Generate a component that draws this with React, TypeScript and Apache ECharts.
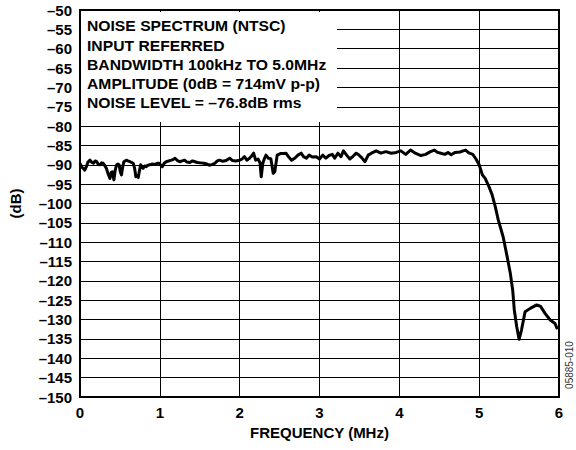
import React, { useEffect, useRef } from "react";
import * as echarts from "echarts";

const freqMHz = [
  0.0, 0.02, 0.04, 0.06, 0.08, 0.1, 0.125, 0.15, 0.17, 0.19, 0.21, 0.23, 0.25, 0.27, 0.29, 0.31, 0.33, 0.355,
  0.375, 0.39, 0.405, 0.425, 0.44, 0.458, 0.475, 0.49, 0.505, 0.52, 0.535, 0.55, 0.58, 0.6, 0.625, 0.645, 0.667,
  0.685, 0.7, 0.715, 0.73, 0.745, 0.76, 0.79, 0.81, 0.83, 0.85, 0.875, 0.9, 0.94, 0.97, 0.99, 1.01, 1.03, 1.055,
  1.08, 1.11, 1.145, 1.17, 1.19, 1.22, 1.25, 1.28, 1.31, 1.34, 1.375, 1.41, 1.44, 1.47, 1.51, 1.55, 1.59, 1.62,
  1.66, 1.69, 1.72, 1.75, 1.79, 1.83, 1.875, 1.91, 1.95, 2.0, 2.03, 2.06, 2.09, 2.12, 2.15, 2.175, 2.2, 2.23,
  2.255, 2.27, 2.29, 2.31, 2.33, 2.36, 2.39, 2.42, 2.44, 2.47, 2.51, 2.55, 2.58, 2.615, 2.65, 2.69, 2.73, 2.77,
  2.8, 2.835, 2.87, 2.91, 2.96, 3.0, 3.04, 3.08, 3.12, 3.16, 3.19, 3.23, 3.27, 3.3, 3.34, 3.38, 3.42, 3.46, 3.49,
  3.53, 3.57, 3.61, 3.65, 3.71, 3.77, 3.83, 3.9, 3.96, 4.02, 4.08, 4.14, 4.2, 4.27, 4.33, 4.39, 4.44, 4.48, 4.52,
  4.57, 4.61, 4.65, 4.7, 4.76, 4.8, 4.83, 4.87, 4.92, 4.96, 5.0, 5.04, 5.075, 5.12, 5.16, 5.2, 5.24, 5.3, 5.35,
  5.39, 5.42, 5.44, 5.47, 5.5, 5.53, 5.575, 5.64, 5.72, 5.77, 5.825, 5.89, 5.95, 5.98,
];

const noiseDb = [
  -89.6, -90.6, -90.9, -91.4, -90.5, -89.3, -88.8, -89.4, -89.6, -89.0, -89.2, -89.9, -90.0, -89.5, -89.6, -90.2,
  -90.9, -92.5, -93.5, -92.0, -91.8, -93.9, -91.5, -90.0, -89.8, -90.0, -91.8, -92.6, -90.5, -89.2, -88.8, -89.0,
  -89.2, -89.4, -89.6, -91.0, -93.1, -92.8, -93.3, -91.5, -90.0, -90.9, -90.3, -90.5, -90.1, -90.0, -89.8, -89.9,
  -89.6, -89.6, -90.0, -90.5, -89.6, -89.2, -89.0, -88.8, -88.6, -88.3, -88.9, -89.2, -89.0, -88.8, -89.3, -89.4,
  -89.0, -89.2, -89.4, -89.5, -89.6, -89.8, -90.1, -89.9, -89.6, -89.0, -88.8, -89.1, -88.9, -88.3, -88.9, -89.0,
  -88.8, -88.5, -87.9, -88.8, -88.4, -87.7, -87.0, -88.8, -88.5, -89.5, -93.1, -89.6, -88.4, -87.5, -88.3, -88.4,
  -92.2, -91.8, -87.5, -87.1, -87.1, -87.0, -88.0, -88.8, -88.3, -87.5, -87.0, -87.9, -88.3, -87.5, -88.0, -87.9,
  -88.5, -87.5, -88.3, -87.6, -87.3, -88.3, -87.0, -87.9, -86.4, -87.5, -88.5, -87.8, -87.0, -87.4, -88.2, -89.2,
  -87.5, -87.0, -86.4, -87.0, -86.6, -87.0, -86.8, -86.4, -87.3, -86.2, -87.0, -87.6, -87.3, -86.6, -86.2, -86.8,
  -87.0, -87.3, -86.8, -87.4, -86.8, -86.7, -86.4, -86.2, -86.9, -87.3, -88.5, -90.0, -92.6, -93.5, -95.5, -97.6,
  -100.7, -104.3, -108.6, -113.7, -118.0, -122.4, -127.5, -131.8, -135.1, -132.7, -128.0, -127.1, -126.2, -126.6,
  -128.4, -130.1, -131.0, -132.5,
];

const noteLines = [
  "NOISE SPECTRUM (NTSC)",
  "INPUT REFERRED",
  "BANDWIDTH 100kHz TO 5.0MHz",
  "AMPLITUDE (0dB = 714mV p-p)",
  "NOISE LEVEL = \u201376.8dB rms",
];

const xAxisTitle = "FREQUENCY (MHz)";
const yAxisTitle = "(dB)";
const figureId = "05885-010";

const FONT = "'Liberation Sans', Arial, Helvetica, sans-serif";

export default function App() {
  const ref = useRef<HTMLDivElement>(null);

  useEffect(() => {
    if (!ref.current) return;
    const chart = echarts.init(ref.current, undefined, { renderer: "svg" });

    const noteGraphics: any[] = noteLines.map((line, i) => ({
      type: "text",
      x: 87,
      y: 26.7 + i * 19.1,
      scaleX: 1.12,
      z: 10,
      style: {
        text: line,
        fill: "#000",
        font: `bold 14px ${FONT}`,
        verticalAlign: "middle",
        align: "left",
      },
    }));

    chart.setOption({
      animation: false,
      backgroundColor: "#fff",
      grid: {
        left: 79,
        right: 17,
        top: 10,
        bottom: 53,
        show: true,
        borderColor: "#000",
        borderWidth: 2,
        backgroundColor: "transparent",
      },
      xAxis: {
        type: "value",
        min: 0,
        max: 6,
        interval: 1,
        name: xAxisTitle,
        nameLocation: "middle",
        nameGap: 26,
        nameTextStyle: { fontFamily: FONT, fontWeight: "bold", fontSize: 15, color: "#000" },
        axisLine: { show: true, lineStyle: { color: "#000", width: 2 } },
        axisTick: { show: false },
        axisLabel: { fontFamily: FONT, fontWeight: "bold", fontSize: 15, color: "#000", margin: 8 },
        splitLine: { show: true, lineStyle: { color: "#000", width: 1 } },
      },
      yAxis: {
        type: "value",
        min: -150,
        max: -50,
        interval: 5,
        name: yAxisTitle,
        nameLocation: "middle",
        nameRotate: 90,
        nameGap: 57,
        nameTextStyle: { fontFamily: FONT, fontWeight: "bold", fontSize: 15, color: "#000" },
        axisLine: { show: true, lineStyle: { color: "#000", width: 2 } },
        axisTick: { show: false },
        axisLabel: {
          fontFamily: FONT,
          fontWeight: "bold",
          fontSize: 15,
          color: "#000",
          margin: 8,
          formatter: (v: number) => String(v).replace("-", "\u2013"),
        },
        splitLine: { show: true, lineStyle: { color: "#000", width: 1 } },
      },
      graphic: [
        {
          type: "rect",
          z: 5,
          shape: { x: 81, y: 12, width: 256, height: 110 },
          style: { fill: "#fff" },
        },
        ...noteGraphics,
        {
          type: "text",
          x: 569,
          y: 365,
          rotation: Math.PI / 2,
          z: 10,
          style: {
            text: figureId,
            fill: "#333",
            font: `10px ${FONT}`,
            align: "center",
            verticalAlign: "middle",
          },
        },
      ],
      series: [
        {
          type: "line",
          data: freqMHz.map((f, i) => [f, noiseDb[i]]),
          showSymbol: false,
          symbol: "none",
          lineStyle: { color: "#000", width: 3, join: "round" },
          z: 3,
        },
      ],
    });

    return () => chart.dispose();
  }, []);

  return <div ref={ref} style={{ width: 576, height: 450, position: "absolute", left: 0, top: 0 }} />;
}
